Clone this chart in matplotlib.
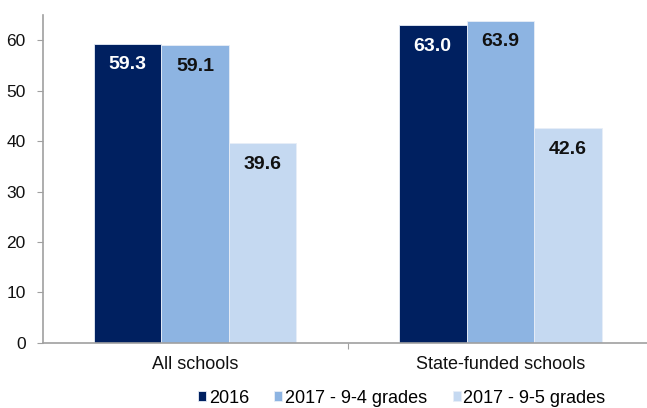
import matplotlib
matplotlib.use("Agg")
import matplotlib.pyplot as plt
import numpy as np

plt.rcParams['font.family'] = ['Liberation Sans', 'DejaVu Sans']

# datos
categorias = ["All schools", "State-funded schools"]
series = ["2016", "2017 - 9-4 grades", "2017 - 9-5 grades"]
v2016 = [59.3, 63.0]
v2017_94 = [59.1, 63.9]
v2017_95 = [39.6, 42.6]
colores = ["#002060", "#8db4e2", "#c5d9f1"]
col_texto = ["white", "#111111", "#111111"]
valores = [v2016, v2017_94, v2017_95]

fig = plt.figure(figsize=(6.47, 4.08), dpi=100)
ax = fig.add_axes([0.0657, 0.160, 0.9434, 0.803])

x = np.arange(len(categorias))
ancho = 0.2214

for k, (vals, col, tcol, nombre) in enumerate(zip(valores, colores, col_texto, series)):
    pos = x + (k - 1) * ancho
    ax.bar(pos, vals, ancho, color=col, edgecolor="#e8eef7", linewidth=0.6, label=nombre)
    for p, v in zip(pos, vals):
        ax.text(p, v - 4.2, f"{v:.1f}", ha="center", va="center",
                fontsize=14, fontweight="bold", color=tcol)

ax.set_xlim(-0.5, 1.5)
ax.set_ylim(0, 65)
ax.set_yticks(np.arange(0, 61, 10))
ax.tick_params(axis="y", labelsize=12.5, length=4, color="#a0a0a0", pad=8, labelcolor="#111111")

# marcas del eje x entre categorias
ax.set_xticks([0.5])
ax.set_xticklabels([""])
ax.tick_params(axis="x", length=4, color="#a0a0a0")
for xi, nombre in zip(x, categorias):
    ax.text(xi, -4.4, nombre, ha="center", va="center", fontsize=13, color="#111111")

for lado in ["top", "right"]:
    ax.spines[lado].set_visible(False)
for lado in ["left", "bottom"]:
    ax.spines[lado].set_color("#a0a0a0")
    ax.spines[lado].set_linewidth(1.2)

fig.legend(loc="center", bbox_to_anchor=(0.621, 0.024), ncol=3, frameon=False,
           fontsize=13, handlelength=0.45, handleheight=0.45, handletextpad=0.15,
           columnspacing=1.4, borderpad=0, borderaxespad=0)

fig.savefig("out.png", dpi=100)
